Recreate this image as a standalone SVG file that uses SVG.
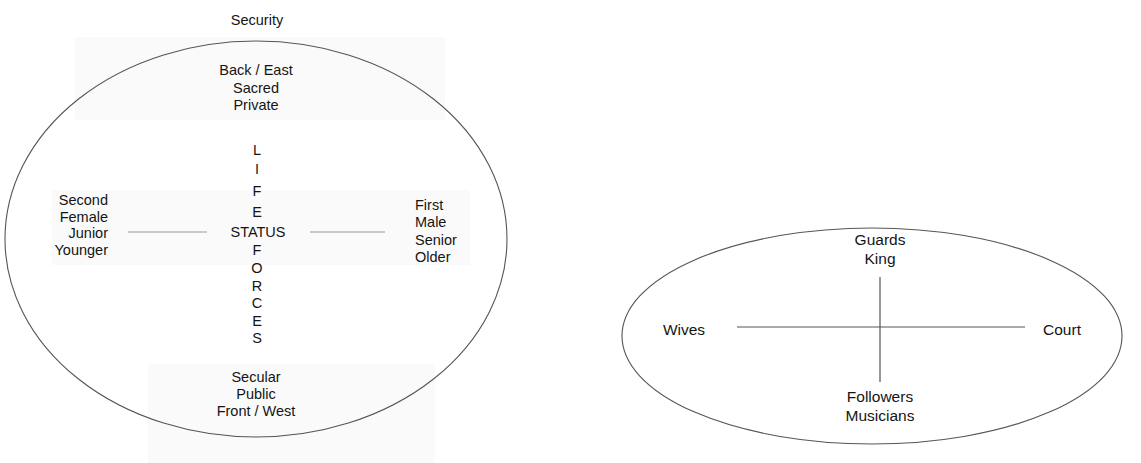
<svg xmlns="http://www.w3.org/2000/svg" width="1141" height="463" viewBox="0 0 1141 463">
<style>
.t{font-family:"Liberation Sans",Arial,sans-serif;font-size:14.5px;fill:#151515;text-anchor:middle}
.r{font-family:"Liberation Sans",Arial,sans-serif;font-size:15.5px;fill:#151515;text-anchor:middle}
.ell{fill:none;stroke:#555;stroke-width:1.1}
.bg{fill:#fafafa}
.ln{stroke:#999;stroke-width:1.1}
.ln2{stroke:#555;stroke-width:1.2}
.e{text-anchor:end}
.s{text-anchor:start}
</style>
<rect width="1141" height="463" fill="#fff"/>
<g id="scan-bg">
<rect class="bg" x="75" y="37" width="370" height="83"/>
<rect class="bg" x="52" y="190" width="418" height="75"/>
<rect class="bg" x="148" y="364" width="287" height="99"/>
</g>
<g id="left-ellipse">
<ellipse class="ell" cx="256" cy="239" rx="251" ry="198"/>
</g>
<g id="right-ellipse">
<ellipse class="ell" cx="872" cy="336" rx="250" ry="108"/>
</g>
<g id="connectors">
<line class="ln" x1="128" y1="232" x2="207" y2="232"/>
<line class="ln" x1="310" y1="232" x2="385" y2="232"/>
<line class="ln2" x1="737" y1="327" x2="1025" y2="327"/>
<line class="ln2" x1="880" y1="277" x2="880" y2="382"/>
</g>
<g id="security"><text class="t" x="257" y="25">Security</text></g>
<g id="top-left">
<text class="t" x="256" y="75">Back / East</text>
<text class="t" x="256" y="93">Sacred</text>
<text class="t" x="256" y="110">Private</text>
</g>
<g id="life-forces">
<text class="t" x="257" y="155">L</text>
<text class="t" x="257" y="174">I</text>
<text class="t" x="257" y="196">F</text>
<text class="t" x="257" y="217">E</text>
<text class="t" x="257" y="255">F</text>
<text class="t" x="257" y="273">O</text>
<text class="t" x="257" y="291">R</text>
<text class="t" x="257" y="308">C</text>
<text class="t" x="257" y="326">E</text>
<text class="t" x="257" y="343">S</text>
</g>
<g id="status"><text class="t" x="258" y="237">STATUS</text></g>
<g id="left-side">
<text class="t e" x="108" y="205">Second</text>
<text class="t e" x="108" y="222">Female</text>
<text class="t e" x="108" y="238">Junior</text>
<text class="t e" x="108" y="255">Younger</text>
</g>
<g id="right-side">
<text class="t s" x="415" y="210">First</text>
<text class="t s" x="415" y="227">Male</text>
<text class="t s" x="415" y="245">Senior</text>
<text class="t s" x="415" y="262">Older</text>
</g>
<g id="bottom-left">
<text class="t" x="256" y="382">Secular</text>
<text class="t" x="256" y="399">Public</text>
<text class="t" x="256" y="416">Front / West</text>
</g>
<g id="king">
<text class="r" x="880" y="245">Guards</text>
<text class="r" x="880" y="264">King</text>
</g>
<g id="wives"><text class="r" x="684" y="335">Wives</text></g>
<g id="court"><text class="r" x="1062" y="335">Court</text></g>
<g id="followers">
<text class="r" x="880" y="402">Followers</text>
<text class="r" x="880" y="421">Musicians</text>
</g>
</svg>
